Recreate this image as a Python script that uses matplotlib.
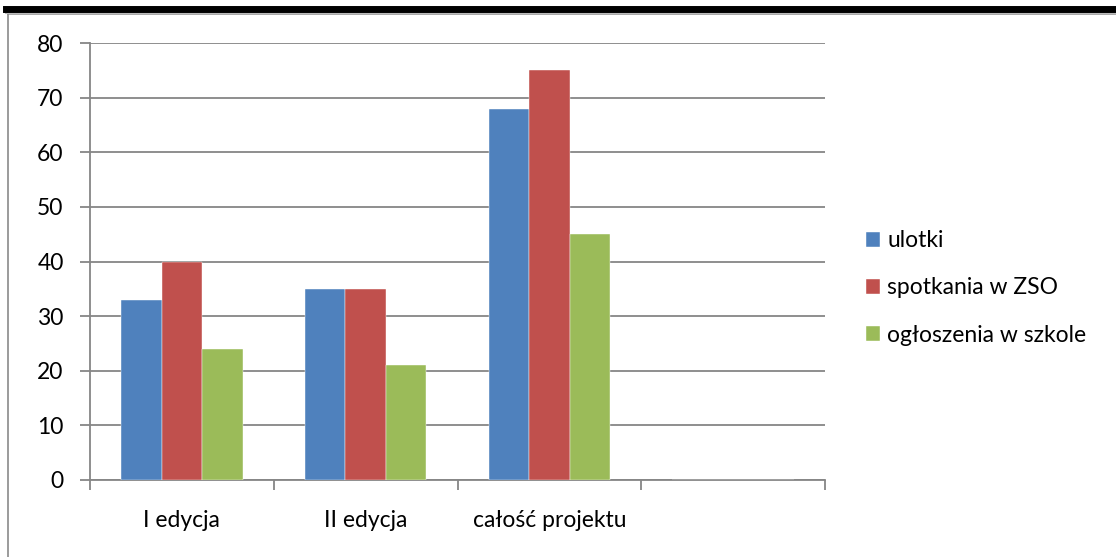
import matplotlib.pyplot as plt
from matplotlib.lines import Line2D
import numpy as np

plt.rcParams['font.family'] = ['Lato', 'DejaVu Sans']

categories = ['I edycja', 'II edycja', 'całość projektu', '']
series_names = ['ulotki', 'spotkania w ZSO', 'ogłoszenia w szkole']
ulotki = [33, 35, 68, 0]
spotkania = [40, 35, 75, 0]
ogloszenia = [24, 21, 45, 0]
colors = ['#4F81BD', '#C0504D', '#9BBB59']

W, H = 1116, 557
FS = 16.5
fig = plt.figure(figsize=(W / 100, H / 100), dpi=100)
ax = fig.add_axes([90 / W, 1 - 480 / H, 735 / W, 437 / H])

n = len(categories)
x = np.arange(n)
bw = 0.22
for i, (vals, name, c) in enumerate(zip([ulotki, spotkania, ogloszenia], series_names, colors)):
    ax.bar(x + (i - 1) * bw, vals, bw, color=c, label=name,
           edgecolor='white', linewidth=0.3, zorder=3)

ax.set_xlim(-0.5, n - 0.5)
ax.set_ylim(0, 80)
ax.set_yticks(range(0, 81, 10))
ax.set_xticks(np.arange(-0.5, n, 1.0))
ax.set_xticklabels([])
for xi, lab in zip(x, categories):
    ax.text(xi, -0.068, lab, transform=ax.get_xaxis_transform(), ha='center', va='top', fontsize=FS)

ax.grid(axis='y', color='#868686', linewidth=1.3, zorder=0)
for s in ['top', 'right']:
    ax.spines[s].set_visible(False)
for s in ['left', 'bottom']:
    ax.spines[s].set_color('#868686')
    ax.spines[s].set_linewidth(1.3)
ax.tick_params(axis='y', length=7, color='#868686', width=1.3, labelsize=FS, pad=12)
ax.tick_params(axis='x', length=7, color='#868686', width=1.3)

leg = fig.legend(loc='center left', bbox_to_anchor=(866 / W, 1 - 288 / H), frameon=False,
                 fontsize=FS, handlelength=0.62, handleheight=0.62, handletextpad=0.3,
                 labelspacing=1.15, borderpad=0, borderaxespad=0)

# frame and thick top bar
fig.add_artist(Line2D([8 / W, 1], [1 - 14 / H, 1 - 14 / H], color='#9a9a9a', linewidth=1.2))
fig.add_artist(Line2D([8 / W, 8 / W], [0, 1 - 14 / H], color='#8a8a8a', linewidth=1.2))
fig.add_artist(Line2D([6 / W, 1], [1 - 12.5 / H, 1 - 12.5 / H], color='#bbbbbb', linewidth=1.5))
fig.add_artist(Line2D([6 / W, 1], [1 - 8.5 / H, 1 - 8.5 / H], color='black', linewidth=5))

fig.savefig('out.png', dpi=100)
